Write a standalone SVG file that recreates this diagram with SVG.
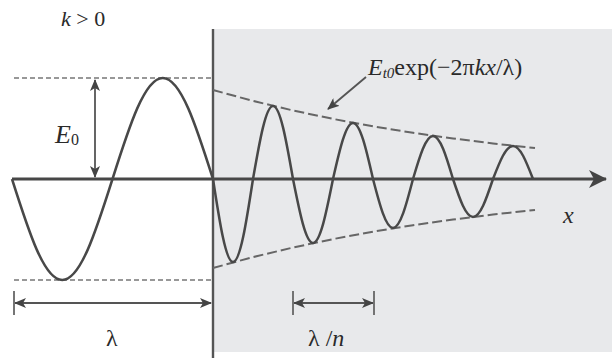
<svg xmlns="http://www.w3.org/2000/svg" width="612" height="361" viewBox="0 0 612 361">
<style>
.t{font-family:"Liberation Serif","Times New Roman",serif;fill:#2a2a2a}
.i{font-style:italic}
.wave{fill:none;stroke:#484848;stroke-width:2.5}
.ref{fill:none;stroke:#777;stroke-width:1.6;stroke-dasharray:5 3}
.env{fill:none;stroke:#666;stroke-width:2;stroke-dasharray:10 4}
.dim{fill:none;stroke:#555;stroke-width:1.8}
.tick{fill:none;stroke:#666;stroke-width:1.8}
</style>
<defs>
<marker id="ah" viewBox="0 0 12 10" refX="11" refY="5" markerWidth="12" markerHeight="10" markerUnits="userSpaceOnUse" orient="auto-start-reverse">
<path d="M0,0 L12,5 L0,10 L3,5 Z" fill="#444"/>
</marker>
<marker id="axh" viewBox="0 0 18 18" refX="17" refY="9" markerWidth="18" markerHeight="18" markerUnits="userSpaceOnUse" orient="auto">
<path d="M0,0 L18,9 L0,18 L5,9 Z" fill="#444"/>
</marker>
</defs>
<rect id="medium" x="213" y="29" width="399" height="323" fill="#e8e9eb"/>
<g id="connectors">
<line x1="12" y1="179" x2="606" y2="179" stroke="#474747" stroke-width="3" marker-end="url(#axh)"/>
<line x1="213" y1="29" x2="213" y2="358" stroke="#555" stroke-width="2.4"/>
<line class="ref" x1="14" y1="78" x2="213" y2="78"/>
<line class="ref" x1="14" y1="280" x2="213" y2="280"/>
<path class="env" d="M213,90 L253,100.9 L293,110.5 L333,118.9 L373,126.3 L413,132.8 L453,138.5 L493,143.5 L535,148"/>
<path class="env" d="M213,268 L253,257.1 L293,247.5 L333,239.1 L373,231.7 L413,225.2 L453,219.5 L493,214.5 L535,210"/>
<line class="dim" x1="95" y1="80" x2="95" y2="177" marker-start="url(#ah)" marker-end="url(#ah)"/>
<line class="dim" x1="15" y1="303" x2="211" y2="303" marker-start="url(#ah)" marker-end="url(#ah)"/>
<line class="tick" x1="14" y1="291" x2="14" y2="315"/>
<line class="dim" x1="294" y1="303" x2="373" y2="303" marker-start="url(#ah)" marker-end="url(#ah)"/>
<line class="tick" x1="293" y1="291" x2="293" y2="315"/>
<line class="tick" x1="374" y1="291" x2="374" y2="315"/>
<line class="dim" x1="366" y1="77" x2="328" y2="109" marker-end="url(#ah)"/>
</g>
<g id="incident-wave">
<path class="wave" d="M12,179 C28.8,232 44.15,280 62.25,280 C80.35,280 95.7,232 112.5,179 C129.3,126 144.65,78 162.75,78 C180.85,78 196.2,126 213,179"/>
</g>
<g id="damped-wave">
<path class="wave" d="M213,179 C219.69,222.6 225.79,262 233,262 C240.21,262 246.31,222.6 253,179 C259.69,140.7 265.79,106 273,106 C280.21,106 286.31,140.7 293,179 C299.69,212.6 305.79,243 313,243 C320.21,243 326.31,212.6 333,179 C339.69,149.6 345.79,123 353,123 C360.21,123 366.31,149.6 373,179 C379.69,204.7 385.79,228 393,228 C400.21,228 406.31,204.7 413,179 C419.69,156.4 425.79,136 433,136 C440.21,136 446.31,156.4 453,179 C459.69,199 465.79,217 473,217 C480.21,217 486.31,199 493,179 C499.69,161.7 505.79,146 513,146 C520.21,146 526.31,161.7 533,179"/>
</g>
<g id="labels">
<text class="t" x="61" y="26" font-size="22"><tspan class="i">k</tspan> &gt; 0</text>
<text class="t" x="55" y="143" font-size="26"><tspan class="i">E</tspan><tspan font-size="16" dy="2">0</tspan></text>
<text class="t" x="368" y="75" font-size="24"><tspan class="i">E</tspan><tspan font-size="15" dy="3" class="i">t0</tspan><tspan dy="-3">exp(−2π</tspan><tspan class="i">kx</tspan>/λ)</text>
<text class="t i" x="563" y="223" font-size="24">x</text>
<text class="t" x="106" y="346" font-size="24">λ</text>
<text class="t" x="308" y="346" font-size="24">λ /<tspan class="i">n</tspan></text>
</g>
</svg>
